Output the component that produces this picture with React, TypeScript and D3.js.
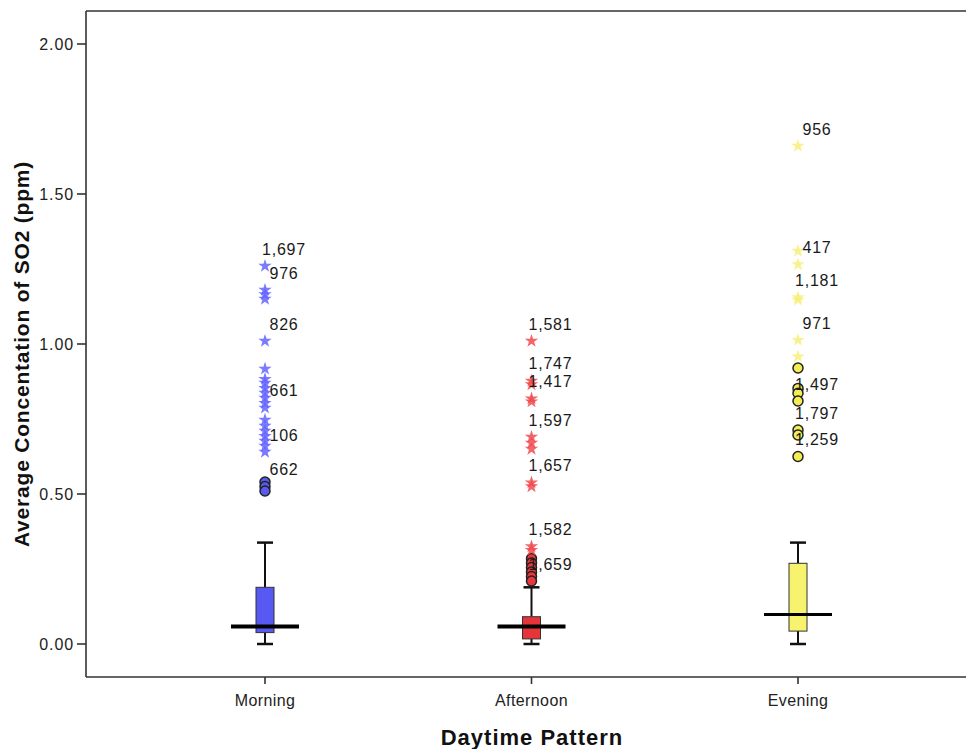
import React from "react";
import * as d3 from "d3";

// Box-plot summaries per daytime pattern (ppm)
const categories = ["Morning", "Afternoon", "Evening"];
const whiskerLow = [0.0, 0.0, 0.0];
const quartile1 = [0.038, 0.017, 0.043];
const medians = [0.058, 0.058, 0.098];
const quartile3 = [0.189, 0.091, 0.269];
const whiskerHigh = [0.338, 0.189, 0.338];

const boxFill = ["#5858F2", "#E6343A", "#F8F36E"];
const starFill = ["#6464FF", "#F04A4E", "#F6F07A"];
const circleFill = ["#5A5AF0", "#E8383D", "#F3EC55"];

// Extreme values (stars), [value, case label]
const morningExtremes: [number, string][] = [
  [1.26, "1,697"], [1.18, "976"], [1.165, ""], [1.15, ""], [1.01, "826"],
  [0.917, ""], [0.883, ""], [0.87, ""], [0.853, ""], [0.837, ""], [0.82, ""],
  [0.803, ""], [0.787, "661"], [0.747, ""], [0.727, ""], [0.71, ""],
  [0.693, ""], [0.677, ""], [0.66, ""], [0.64, "106"],
];
const afternoonExtremes: [number, string][] = [
  [1.01, "1,581"], [0.877, "1,747"], [0.865, ""], [0.818, "1,417"], [0.808, ""],
  [0.69, "1,597"], [0.67, ""], [0.65, ""], [0.538, "1,657"], [0.525, ""],
  [0.325, "1,582"], [0.313, ""],
];
const eveningExtremes: [number, string][] = [
  [1.66, "956"], [1.31, ""], [1.265, "417"], [1.155, "1,181"], [1.147, ""],
  [1.013, "971"], [0.958, ""],
];

// Outliers (circles), [value, case label]
const morningOutliers: [number, string][] = [[0.54, ""], [0.525, "662"], [0.51, ""]];
const afternoonOutliers: [number, string][] = [
  [0.285, ""], [0.27, ""], [0.255, ""], [0.24, ""], [0.225, ""], [0.21, "1,659"],
];
const eveningOutliers: [number, string][] = [
  [0.92, ""], [0.852, ""], [0.836, ""], [0.81, "1,497"], [0.713, "1,797"],
  [0.697, ""], [0.625, "1,259"],
];

const extremes = [morningExtremes, afternoonExtremes, eveningExtremes];
const outliers = [morningOutliers, afternoonOutliers, eveningOutliers];

const yTicks = [0, 0.5, 1.0, 1.5, 2.0];

const W = 966;
const H = 749;
const FONT = "'Liberation Sans', Arial, sans-serif";

export default function App() {
  const left = 86;
  const top = 11;
  const bottom = 677;

  const y = d3.scaleLinear().domain([-0.11, 2.11]).range([bottom, top]);
  const x = d3.scalePoint<string>().domain(categories).range([265, 798]);

  const boxW = 18;
  const medW = 68;
  const capW = 16;
  const star = d3.symbol().type(d3.symbolStar).size(56)() as string;

  return (
    <svg
      width={W}
      height={H}
      style={{ position: "absolute", left: 0, top: 0, background: "#fff" }}
      fontFamily={FONT}
    >
      {/* frame */}
      <line x1={left} x2={W} y1={top} y2={top} stroke="#333" strokeWidth={1.6} />
      <line x1={left} x2={W} y1={bottom} y2={bottom} stroke="#333" strokeWidth={1.6} />
      <line x1={left} x2={left} y1={top} y2={bottom} stroke="#333" strokeWidth={1.6} />

      {/* y axis ticks */}
      {yTicks.map((t) => (
        <g key={t}>
          <line x1={left - 9} x2={left} y1={y(t)} y2={y(t)} stroke="#333" strokeWidth={1.6} />
          <text
            x={left - 12}
            y={y(t)}
            textAnchor="end"
            dominantBaseline="central"
            fontSize={16}
            letterSpacing={0.9}
            fill="#222"
          >
            {d3.format(".2f")(t)}
          </text>
        </g>
      ))}

      {/* x axis ticks */}
      {categories.map((c) => (
        <g key={c}>
          <line x1={x(c)} x2={x(c)} y1={bottom} y2={bottom + 7} stroke="#333" strokeWidth={1.6} />
          <text
            x={x(c)}
            y={bottom + 23}
            textAnchor="middle"
            dominantBaseline="central"
            fontSize={16}
            letterSpacing={0.4}
            fill="#222"
          >
            {c}
          </text>
        </g>
      ))}

      {/* axis titles */}
      <text
        x={532}
        y={737}
        textAnchor="middle"
        dominantBaseline="central"
        fontSize={22}
        letterSpacing={1}
        fontWeight="bold"
        fill="#111"
      >
        Daytime Pattern
      </text>
      <text
        transform={`translate(21,354) rotate(-90)`}
        textAnchor="middle"
        dominantBaseline="central"
        fontSize={21}
        letterSpacing={0.8}
        fontWeight="bold"
        fill="#111"
      >
        Average Concentation of SO2 (ppm)
      </text>

      {/* boxes */}
      {categories.map((c, i) => {
        const cx = x(c) as number;
        return (
          <g key={c}>
            <line x1={cx} x2={cx} y1={y(quartile3[i])} y2={y(whiskerHigh[i])} stroke="#111" strokeWidth={2} />
            <line x1={cx} x2={cx} y1={y(quartile1[i])} y2={y(whiskerLow[i])} stroke="#111" strokeWidth={2} />
            <line x1={cx - capW / 2} x2={cx + capW / 2} y1={y(whiskerHigh[i])} y2={y(whiskerHigh[i])} stroke="#111" strokeWidth={2.5} />
            <line x1={cx - capW / 2} x2={cx + capW / 2} y1={y(whiskerLow[i])} y2={y(whiskerLow[i])} stroke="#111" strokeWidth={2.5} />
            <rect
              x={cx - boxW / 2}
              y={y(quartile3[i])}
              width={boxW}
              height={y(quartile1[i]) - y(quartile3[i])}
              fill={boxFill[i]}
              stroke="#333"
              strokeWidth={1}
            />
            <line
              x1={cx - medW / 2}
              x2={cx + medW / 2}
              y1={y(medians[i])}
              y2={y(medians[i])}
              stroke="#000"
              strokeWidth={i === 2 ? 3 : 4}
            />
          </g>
        );
      })}

      {/* outliers and extremes */}
      {categories.map((c, i) => {
        const cx = x(c) as number;
        return (
          <g key={c}>
            {outliers[i].map(([v], j) => (
              <circle
                key={"o" + j}
                cx={cx}
                cy={y(v)}
                r={5}
                fill={circleFill[i]}
                stroke="#222"
                strokeWidth={1.5}
              />
            ))}
            {extremes[i].map(([v], j) => (
              <path key={"e" + j} d={star} transform={`translate(${cx},${y(v)})`} fill={starFill[i]} fillOpacity={0.85} />
            ))}
          </g>
        );
      })}

      {/* case labels */}
      {categories.map((c, i) => {
        const cx = x(c) as number;
        const labelled = [...extremes[i], ...outliers[i]].filter(([, l]) => l !== "");
        return (
          <g key={c}>
            {labelled.map(([v, l]) => (
              <text
                key={l}
                x={cx + 19}
                y={y(v) - 17}
                textAnchor="middle"
                dominantBaseline="central"
                fontSize={16}
                letterSpacing={0.8}
                fill="#1a1a1a"
              >
                {l}
              </text>
            ))}
          </g>
        );
      })}
    </svg>
  );
}
